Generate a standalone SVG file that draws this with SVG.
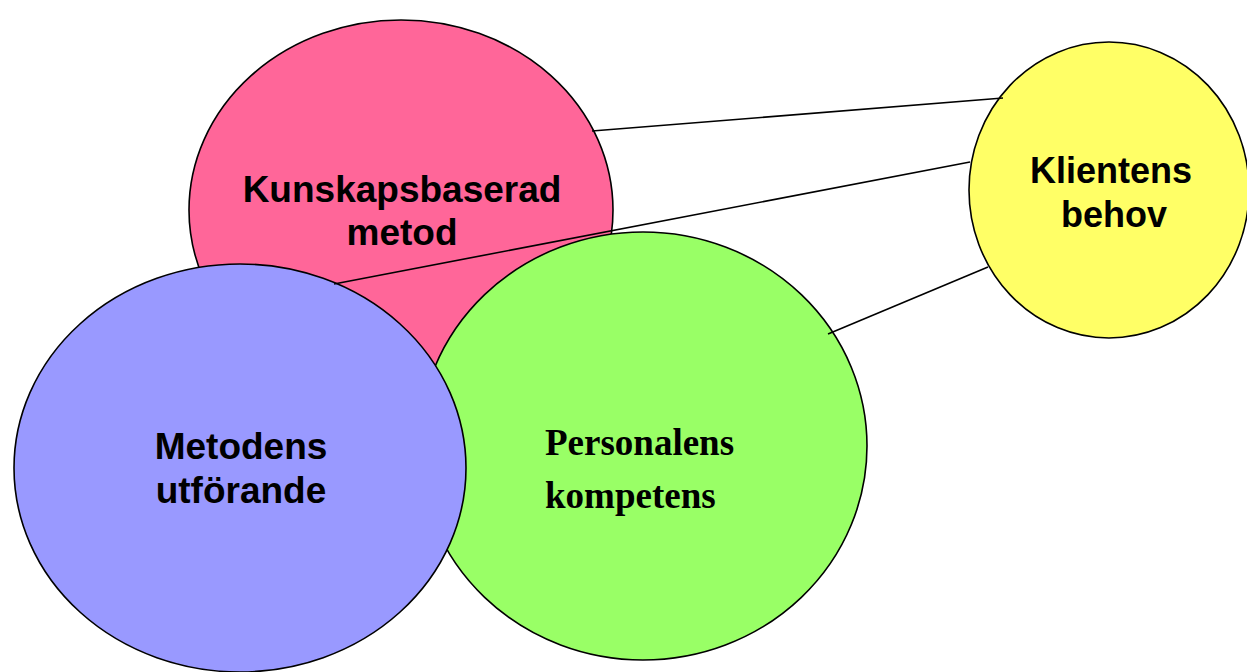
<svg xmlns="http://www.w3.org/2000/svg" width="1247" height="672" viewBox="0 0 1247 672">
<style>
.node{stroke:#000;stroke-width:1.6}
.sans{font-family:"Liberation Sans",Arial,sans-serif;font-weight:bold;font-size:37px;text-anchor:middle;fill:#000}
.serif{font-family:"Liberation Serif","Times New Roman",serif;font-weight:bold;font-size:37px;fill:#000}
.conn line{stroke:#000;stroke-width:1.6}
</style>
<rect width="1247" height="672" fill="#fff"/>
<g id="kunskapsbaserad">
<ellipse class="node" cx="401" cy="210" rx="212" ry="190" fill="#FF6699"/>
<text class="sans" x="402" y="202">Kunskapsbaserad</text>
<text class="sans" x="402" y="245">metod</text>
</g>
<g id="personalens">
<ellipse class="node" cx="643" cy="446" rx="224" ry="214" fill="#99FF66"/>
<text class="serif" x="545" y="455">Personalens</text>
<text class="serif" x="545" y="508">kompetens</text>
</g>
<g id="metodens">
<ellipse class="node" cx="240" cy="468" rx="226" ry="204" fill="#9999FF"/>
<text class="sans" x="241" y="459">Metodens</text>
<text class="sans" x="241" y="503">utförande</text>
</g>
<g id="klientens">
<ellipse class="node" cx="1109" cy="190" rx="140" ry="148" fill="#FFFF66"/>
<text class="sans" x="1111" y="183" style="font-size:36px">Klientens</text>
<text class="sans" x="1114" y="227" style="font-size:36px">behov</text>
</g>
<g class="conn" id="connectors">
<line x1="592" y1="131" x2="1003" y2="98"/>
<line x1="334" y1="284" x2="970" y2="162"/>
<line x1="828" y1="334" x2="988" y2="267"/>
</g>
</svg>
